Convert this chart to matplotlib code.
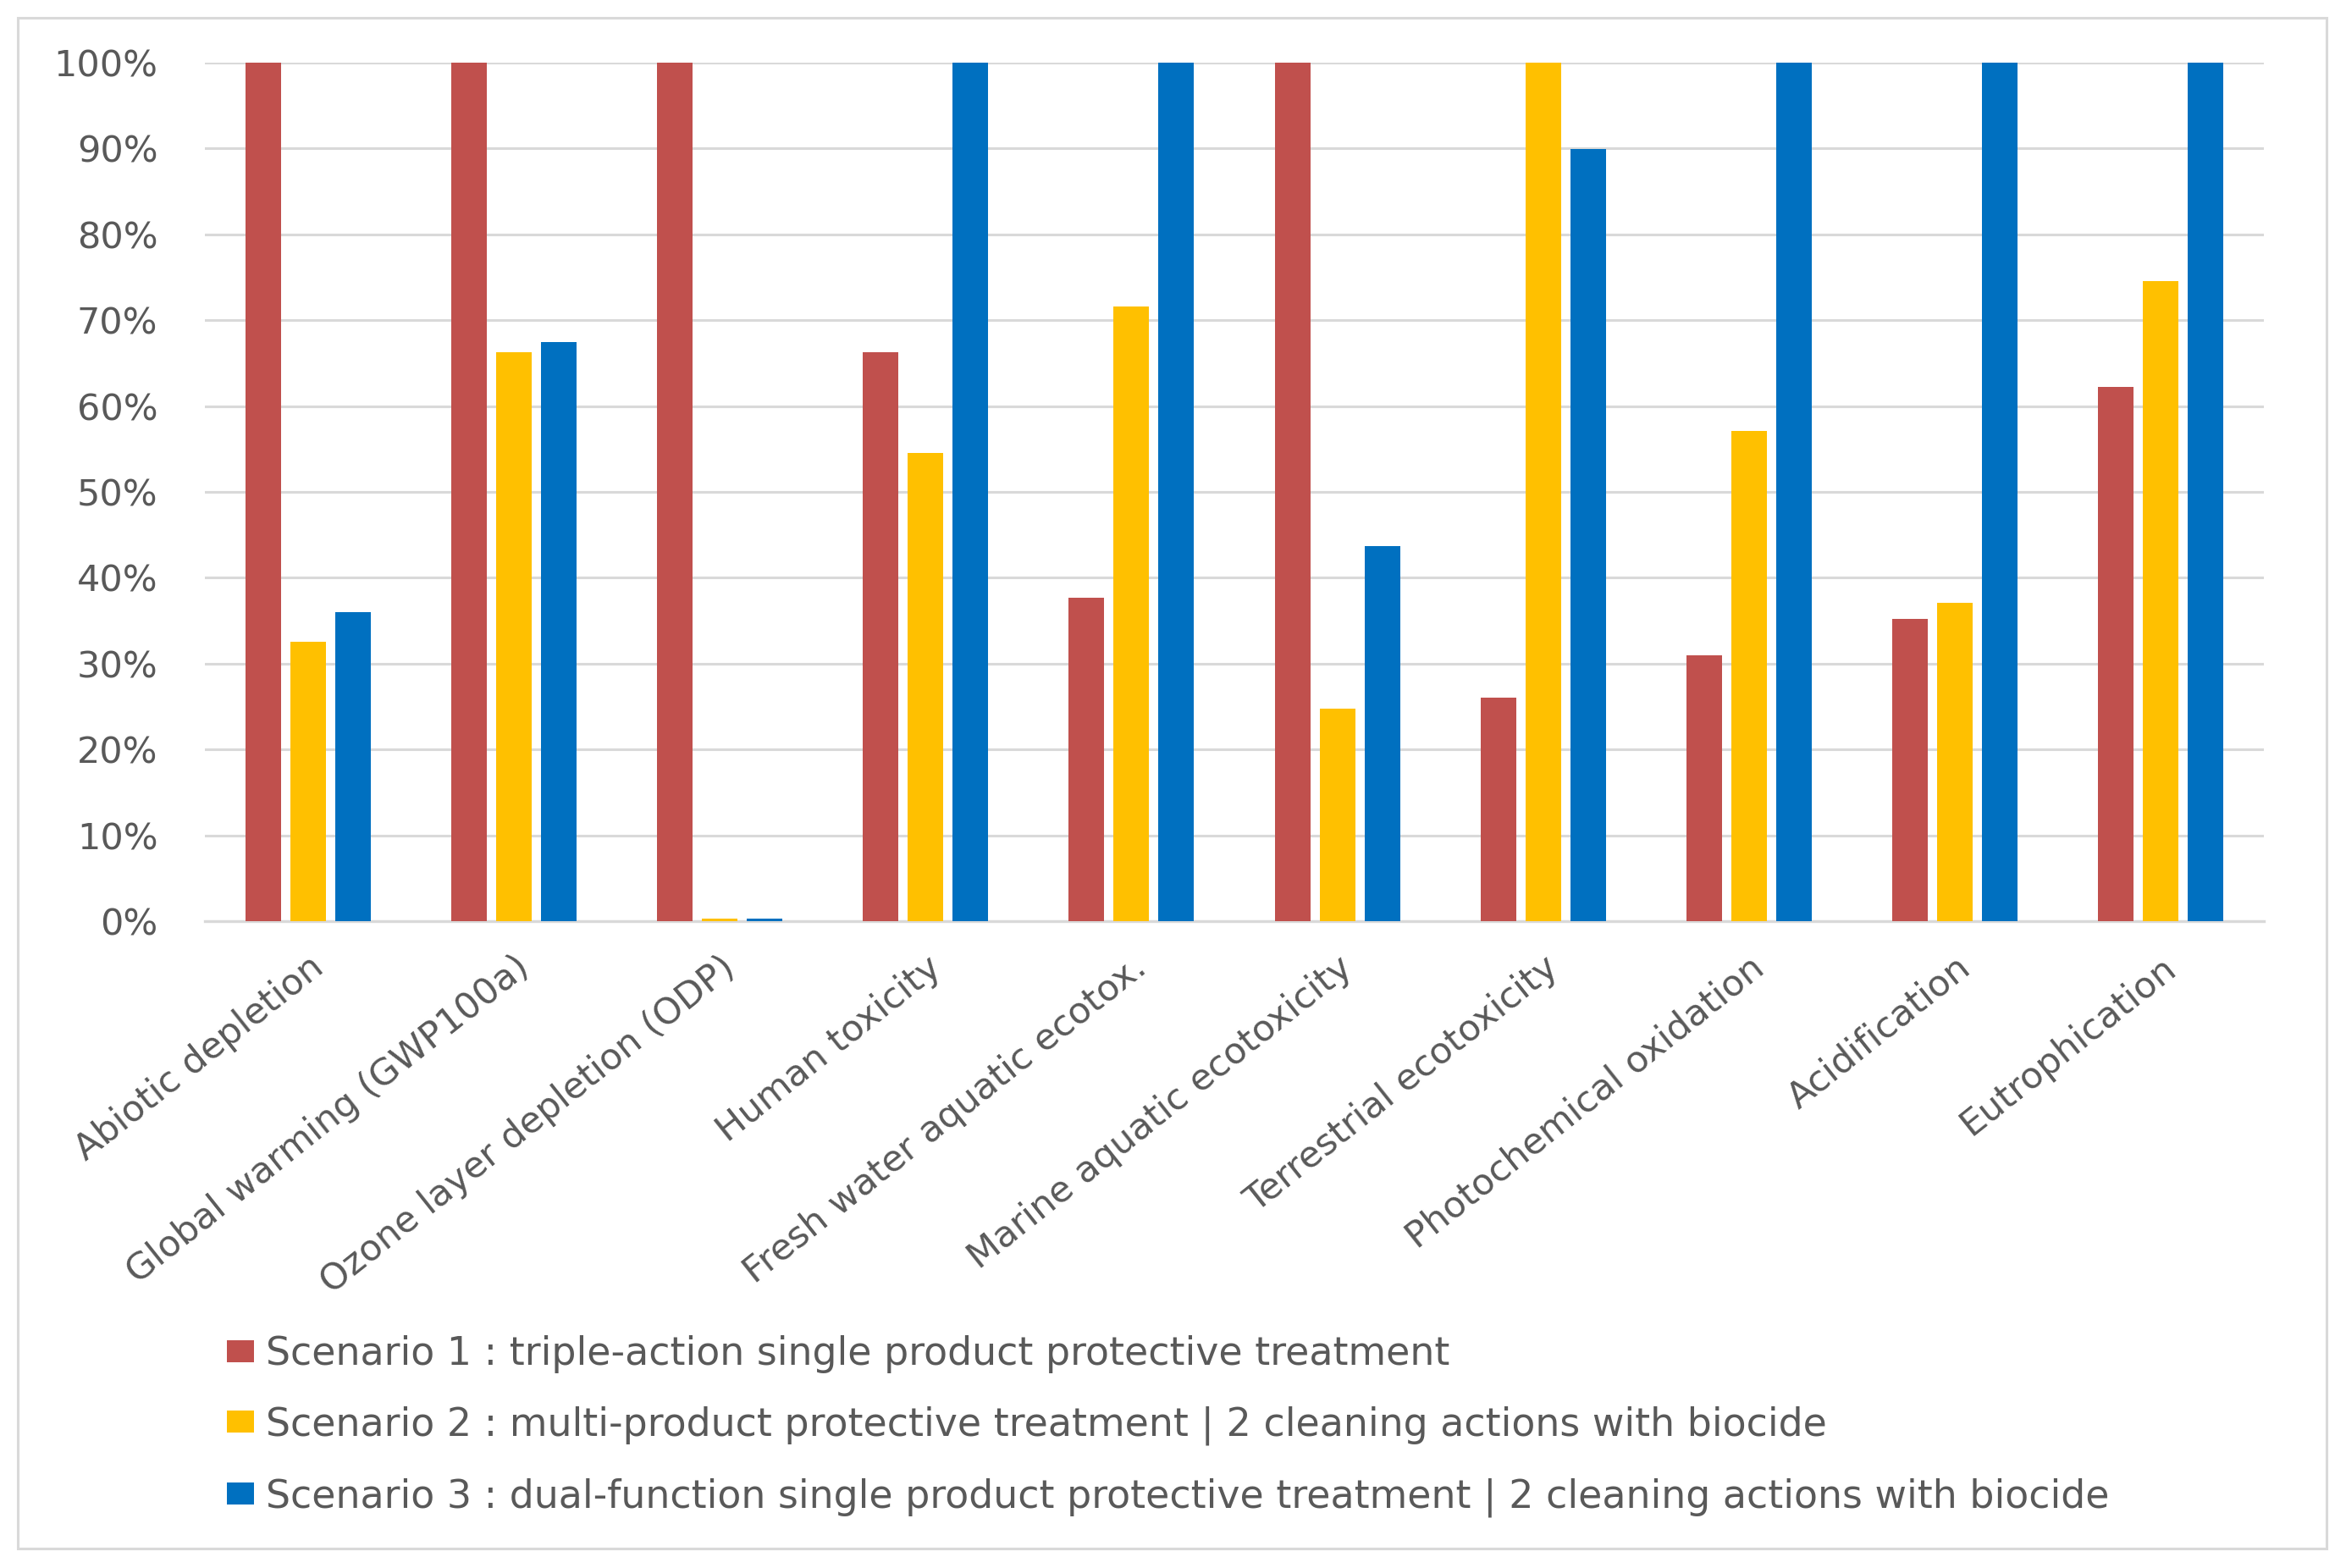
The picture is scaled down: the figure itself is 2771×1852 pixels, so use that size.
import matplotlib
matplotlib.use("Agg")
import matplotlib.pyplot as plt
from matplotlib.patches import Rectangle
import numpy as np

categories = ["Abiotic depletion", "Global warming (GWP100a)", "Ozone layer depletion (ODP)",
              "Human toxicity", "Fresh water aquatic ecotox.", "Marine aquatic ecotoxicity",
              "Terrestrial ecotoxicity", "Photochemical oxidation", "Acidification", "Eutrophication"]
scenario1 = [100, 100, 100, 66.3, 37.7, 100, 26.0, 31.0, 35.2, 62.2]
scenario2 = [32.5, 66.3, 0.3, 54.5, 71.6, 24.8, 100, 57.1, 37.1, 74.6]
scenario3 = [36.0, 67.5, 0.3, 100, 100, 43.7, 89.9, 100, 100, 100]
series_labels = ["Scenario 1 : triple-action single product protective treatment",
                 "Scenario 2 : multi-product protective treatment | 2 cleaning actions with biocide",
                 "Scenario 3 : dual-function single product protective treatment | 2 cleaning actions with biocide"]
colors = ["#C0504D", "#FFC000", "#0070C0"]
yticks = [0, 10, 20, 30, 40, 50, 60, 70, 80, 90, 100]

W, H = 2771, 1852
fig = plt.figure(figsize=(W / 100, H / 100), dpi=100)
plt.rcParams['font.family'] = ['DejaVu Sans']
txt = "#595959"
grid = "#D9D9D9"

# outer frame
fig.patches.append(Rectangle((21 / W, 1 - 1829 / H), (2748 - 21) / W, (1829 - 21) / H,
                             transform=fig.transFigure, fill=False, edgecolor=grid, linewidth=2.2))

ax = fig.add_axes([242 / W, 1 - 1088 / H, (2674 - 242) / W, (1088 - 74) / H])
x = np.arange(len(categories))
bw = 0.173
step = 0.218
for i, (vals, c, lab) in enumerate(zip([scenario1, scenario2, scenario3], colors, series_labels)):
    ax.bar(x + (i - 1) * step, np.array(vals) / 100.0, width=bw, color=c, label=lab, zorder=3)

ax.set_xlim(-0.5, len(categories) - 0.5)
ax.set_ylim(0, 1.0)
ax.set_yticks([v / 100 for v in yticks])
ax.set_yticklabels([f"{v}%" for v in yticks])
ax.yaxis.grid(True, color=grid, linewidth=2.2, zorder=0)
ax.set_axisbelow(True)
for s in ["top", "right", "left"]:
    ax.spines[s].set_visible(False)
ax.spines["bottom"].set_color(grid)
ax.spines["bottom"].set_linewidth(2.4)
ax.tick_params(axis="y", length=0, pad=40, labelsize=31, labelcolor=txt)
ax.tick_params(axis="x", length=0, pad=24, labelsize=31, labelcolor=txt)
ax.set_xticks(x)
ax.set_xticklabels(categories, rotation=38.5, ha="right", rotation_mode="anchor")

leg = fig.legend(loc="upper left", bbox_to_anchor=(268 / W, 1 - 1577 / H), frameon=False,
                 fontsize=33, handlelength=0.7, handleheight=0.5, handletextpad=0.3,
                 labelspacing=0.84, labelcolor=txt, borderaxespad=0, borderpad=0)

fig.savefig("out.png", dpi=100, facecolor="white")
